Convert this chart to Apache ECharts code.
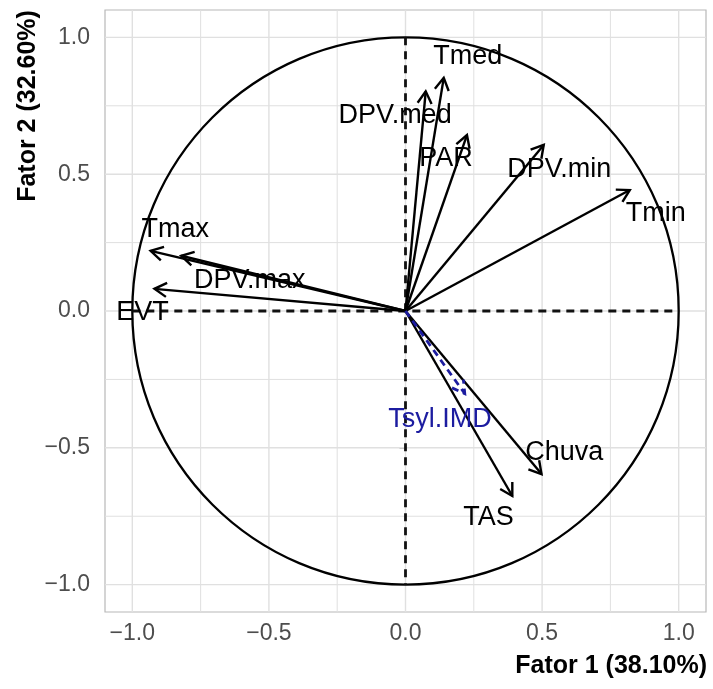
<!DOCTYPE html>
<html><head><meta charset="utf-8">
<script src="https://cdn.jsdelivr.net/npm/echarts@6/dist/echarts.min.js"></script>
<style>html,body{margin:0;padding:0;background:#fff}#c{width:713px;height:689px}</style>
</head><body><div id="c"></div>
<script>
// ---- data ----
const variables = ['Tmed', 'DPV.med', 'PAR', 'DPV.min', 'Tmin', 'Tmax', 'DPV.max', 'EVT', 'Chuva', 'TAS'];
const factor1 = [0.140, 0.074, 0.225, 0.506, 0.821, -0.933, -0.821, -0.919, 0.498, 0.391];
const factor2 = [0.852, 0.803, 0.643, 0.607, 0.442, 0.220, 0.202, 0.081, -0.596, -0.676];
const suppVariables = ['Tsyl.IMD'];
const suppFactor1 = [0.217];
const suppFactor2 = [-0.302];
const tickValues = [-1, -0.5, 0, 0.5, 1];
const tickLabels = ['−1.0', '−0.5', '0.0', '0.5', '1.0'];
const minorGrid = [-0.75, -0.25, 0.25, 0.75];
const xTitle = 'Fator 1 (38.10%)';
const yTitle = 'Fator 2 (32.60%)';

// ---- label placement (repelled label anchors, axis units) ----
const labelPlacement = {
  'Tmed': [0.228, 0.930], 'DPV.med': [-0.038, 0.716], 'PAR': [0.148, 0.556],
  'DPV.min': [0.563, 0.516], 'Tmin': [0.916, 0.356], 'Tmax': [-0.843, 0.298],
  'DPV.max': [-0.570, 0.112], 'EVT': [-0.963, -0.005], 'Chuva': [0.581, -0.518],
  'TAS': [0.304, -0.755], 'Tsyl.IMD': [0.126, -0.395]
};

const BLACK = '#000000';
const BLUE = '#1c1ca0';
const GRID = '#e0e0e0';

const activeData = variables.map((n, i) => [factor1[i], factor2[i], n]);
const suppData = suppVariables.map((n, i) => [suppFactor1[i], suppFactor2[i], n]);
const labelData = activeData.map(d => [labelPlacement[d[2]][0], labelPlacement[d[2]][1], d[2], BLACK])
  .concat(suppData.map(d => [labelPlacement[d[2]][0], labelPlacement[d[2]][1], d[2], BLUE]));

function arrowRenderer(color, dash, lw) {
  return function (params, api) {
    const x = api.value(0), y = api.value(1);
    const o = api.coord([0, 0]);
    const p = api.coord([x, y]);
    const ang = Math.atan2(p[1] - o[1], p[0] - o[0]);
    const L = 14, a = Math.PI / 6;
    const h1 = [p[0] - L * Math.cos(ang - a), p[1] - L * Math.sin(ang - a)];
    const h2 = [p[0] - L * Math.cos(ang + a), p[1] - L * Math.sin(ang + a)];
    return {
      type: 'group', children: [
        { type: 'line', shape: { x1: o[0], y1: o[1], x2: p[0], y2: p[1] },
          style: { stroke: color, lineWidth: lw, lineDash: dash } },
        { type: 'polyline', shape: { points: [h1, p, h2] },
          style: { stroke: color, lineWidth: lw, fill: null, lineDash: dash } }
      ]
    };
  };
}

function gridRenderer(dim, width) {
  return function (params, api) {
    const cs = params.coordSys;
    const v = api.value(0);
    if (dim === 'x') {
      const px = api.coord([v, 0])[0];
      return { type: 'line', shape: { x1: px, y1: cs.y, x2: px, y2: cs.y + cs.height },
        style: { stroke: GRID, lineWidth: width } };
    } else {
      const py = api.coord([0, v])[1];
      return { type: 'line', shape: { x1: cs.x, y1: py, x2: cs.x + cs.width, y2: py },
        style: { stroke: GRID, lineWidth: width } };
    }
  };
}

const chart = echarts.init(document.getElementById('c'), null, { renderer: 'canvas' });
const axisCommon = {
  type: 'value', min: -1.1, max: 1.1,
  axisLine: { show: false },
  splitLine: { show: false },
  axisTick: { show: true, customValues: tickValues, length: 6, lineStyle: { color: '#b3b3b3', width: 1 } },
  axisLabel: {
    customValues: tickValues,
    formatter: v => tickLabels[tickValues.findIndex(t => Math.abs(t - v) < 1e-9)],
    color: '#4d4d4d', fontSize: 23, fontFamily: 'Liberation Sans'
  }
};
chart.setOption({
  animation: false,
  backgroundColor: '#ffffff',
  grid: { left: 105, right: 7, top: 10, bottom: 77, show: true, borderColor: '#b8b8b8', borderWidth: 1.2, backgroundColor: 'transparent' },
  xAxis: Object.assign({}, axisCommon, { axisLabel: Object.assign({}, axisCommon.axisLabel, { margin: 10 }) }),
  yAxis: Object.assign({}, axisCommon, { axisLabel: Object.assign({}, axisCommon.axisLabel, { margin: 15 }) }),
  graphic: [
    { type: 'text', right: 6, top: 654, style: { text: xTitle, font: 'bold 25px "Liberation Sans"', fill: '#000' } },
    { type: 'text', x: 28, y: 106, rotation: Math.PI / 2,
      style: { text: yTitle, font: 'bold 25px "Liberation Sans"', fill: '#000', textAlign: 'center', textVerticalAlign: 'middle' } }
  ],
  series: [
    { type: 'custom', silent: true, z: 1, data: minorGrid.map(v => [v]), renderItem: gridRenderer('x', 1) },
    { type: 'custom', silent: true, z: 1, data: minorGrid.map(v => [v]), renderItem: gridRenderer('y', 1) },
    { type: 'custom', silent: true, z: 1, data: tickValues.map(v => [v]), renderItem: gridRenderer('x', 1.4) },
    { type: 'custom', silent: true, z: 1, data: tickValues.map(v => [v]), renderItem: gridRenderer('y', 1.4) },
    { // unit correlation circle and dashed reference axes
      type: 'custom', silent: true, z: 2, data: [[0, 0]],
      renderItem: function (params, api) {
        const c = api.coord([0, 0]);
        const r = api.size([1, 1]);
        const l = api.coord([-1, 0]), rr = api.coord([1, 0]);
        const t = api.coord([0, 1]), b = api.coord([0, -1]);
        return { type: 'group', children: [
          { type: 'ellipse', shape: { cx: c[0], cy: c[1], rx: r[0], ry: r[1] }, style: { stroke: BLACK, lineWidth: 2.3, fill: null } },
          { type: 'line', shape: { x1: l[0], y1: l[1], x2: rr[0], y2: rr[1] }, style: { stroke: '#111', lineWidth: 2.8, lineDash: [8, 6] } },
          { type: 'line', shape: { x1: t[0], y1: t[1], x2: b[0], y2: b[1] }, style: { stroke: '#111', lineWidth: 2.8, lineDash: [8, 6] } }
        ] };
      }
    },
    { type: 'custom', silent: true, z: 3, data: activeData, renderItem: arrowRenderer(BLACK, null, 2.4) },
    { type: 'custom', silent: true, z: 3, data: suppData, renderItem: arrowRenderer(BLUE, [7, 5], 2.8) },
    { type: 'custom', silent: true, z: 4, data: labelData,
      renderItem: function (params, api) {
        const p = api.coord([api.value(0), api.value(1)]);
        const d = labelData[params.dataIndex];
        return { type: 'text', x: p[0], y: p[1],
          style: { text: d[2], fill: d[3], font: '27px "Liberation Sans"', textAlign: 'center', textVerticalAlign: 'middle' } };
      }
    }
  ]
});
</script></body></html>
